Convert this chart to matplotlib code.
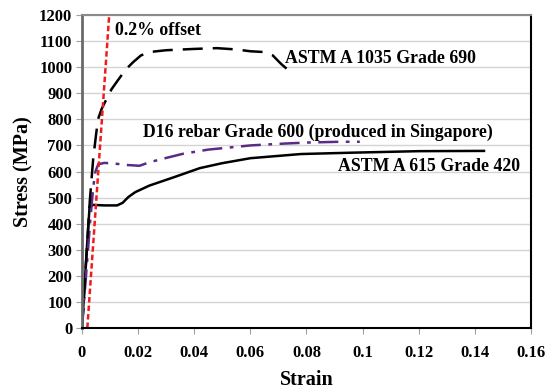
import matplotlib
matplotlib.use("Agg")
import matplotlib.pyplot as plt

plt.rcParams["font.family"] = ["Liberation Serif", "DejaVu Serif"]
plt.rcParams["font.weight"] = "bold"

# ASTM A 1035 Grade 690
a1035_strain = [0, 0.0028, 0.004, 0.005, 0.0057, 0.007, 0.0082, 0.0105, 0.0128, 0.0155,
                0.0182, 0.021, 0.024, 0.03, 0.04, 0.048, 0.055, 0.06, 0.065, 0.068,
                0.071, 0.075]
a1035_stress = [0, 490, 650, 740, 800, 840, 866, 915, 950, 990,
                1019, 1045, 1058, 1065, 1070, 1073, 1068, 1061, 1058, 1045,
                1012, 975]

# D16 rebar Grade 600
d16_strain = [0, 0.0015, 0.003, 0.004, 0.0048, 0.0058, 0.008, 0.012, 0.016, 0.0205,
              0.0242, 0.03, 0.036, 0.045, 0.06, 0.07, 0.08, 0.092, 0.099]
d16_stress = [0, 210, 420, 540, 600, 628, 633, 630, 625, 622,
              636, 652, 668, 684, 700, 706, 711, 714, 714]

# ASTM A 615 Grade 420
a615_strain = [0, 0.0017, 0.0027, 0.004, 0.008, 0.0125, 0.0145, 0.0165, 0.019, 0.024,
               0.033, 0.042, 0.05, 0.06, 0.078, 0.0955, 0.12, 0.1437]
a615_stress = [0, 300, 465, 472, 470, 470, 480, 502, 521, 546,
               579, 613, 632, 651, 667, 672, 678, 679]

# 0.2% offset line
offset_strain = [0.0019, 0.0097]
offset_stress = [0, 1200]

fig = plt.figure(figsize=(5.47, 3.89), dpi=100)
ax = fig.add_axes([0.1499, 0.1568, 0.8208, 0.8046])

ax.plot(a615_strain, a615_stress, color="black", lw=1.8, solid_capstyle="butt")
ax.plot(d16_strain, d16_stress, color="#5b2a86", lw=1.8, dashes=(8, 3, 1.5, 3))
ax.plot(a1035_strain, a1035_stress, color="black", lw=1.8, dashes=(8, 4))
ax.plot(offset_strain, offset_stress, color="#ee1c1c", lw=1.8, dashes=(2.2, 1.2))

ax.set_xlim(0, 0.16)
ax.set_ylim(0, 1200)
ax.set_xticks([0, 0.02, 0.04, 0.06, 0.08, 0.1, 0.12, 0.14, 0.16])
ax.set_xticklabels(["0", "0.02", "0.04", "0.06", "0.08", "0.1", "0.12", "0.14", "0.16"])
ax.set_yticks(range(0, 1201, 100))
ax.yaxis.grid(True, color="#d4d4d4", lw=1)
ax.set_axisbelow(True)
ax.tick_params(axis="both", labelsize=12, length=4, color="#a0a0a0")
ax.tick_params(axis="y", pad=3)
ax.tick_params(axis="x", pad=8)
for lbl in ax.get_xticklabels() + ax.get_yticklabels():
    lbl.set_fontweight("bold")

ax.spines["left"].set_color("#6a6a6a")
ax.spines["left"].set_linewidth(2)
ax.spines["top"].set_color("#8a8a8a")
ax.spines["top"].set_linewidth(1.5)
ax.spines["right"].set_color("black")
ax.spines["right"].set_linewidth(1.5)
ax.spines["bottom"].set_color("black")
ax.spines["bottom"].set_linewidth(1.5)

ax.set_xlabel("Strain", fontsize=14.5, fontweight="bold", labelpad=7)
ax.set_ylabel("Stress (MPa)", fontsize=14.5, fontweight="bold", labelpad=4)

txt = dict(fontsize=12.75, fontweight="bold", ha="left", va="center")
ax.text(0.0118, 1139, "0.2% offset", **txt)
ax.text(0.0723, 1035, "ASTM A 1035 Grade 690", **txt)
ax.text(0.0217, 752, "D16 rebar Grade 600 (produced in Singapore)", **txt)
ax.text(0.0912, 621, "ASTM A 615 Grade 420", **txt)

fig.savefig("out.png", dpi=100)
